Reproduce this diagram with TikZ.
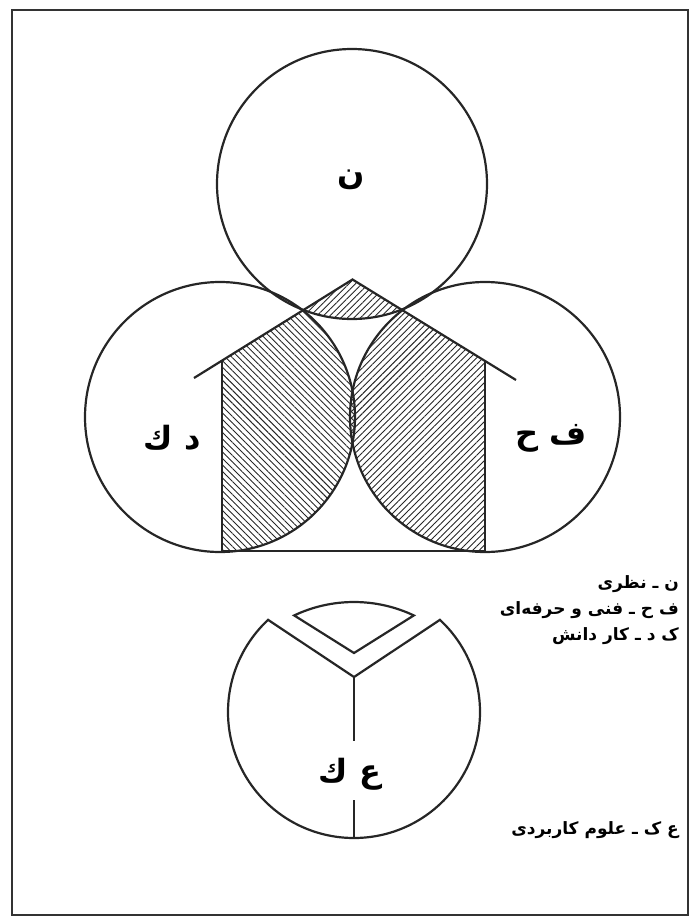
\documentclass[tikz,border=0pt]{standalone}
\usepackage{fontspec}
\usepackage{tikz}
\usetikzlibrary{patterns.meta, calc}
\newfontfamily\arabicfont[Script=Arabic]{DejaVu Sans}
\TeXXeTstate=1
\tikzstyle{outline} = [line width=2.2pt, black!85]
\tikzstyle{abbr} = [font=\arabicfont\bfseries\fontsize{32}{36}\selectfont, inner sep=0pt]
\tikzstyle{keytext} = [font=\arabicfont\bfseries\fontsize{17}{20}\selectfont, inner sep=0pt, anchor=east]
\tikzstyle{hatchL} = [pattern={Lines[angle=-45, distance=4.6pt, line width=0.9pt]}, pattern color=black!85]
\tikzstyle{hatchR} = [pattern={Lines[angle=45, distance=4.6pt, line width=0.9pt]}, pattern color=black!85]

\begin{document}
\begin{tikzpicture}[x=1pt, y=-1pt]
        \useasboundingbox (0,0) rectangle (698,919);
        \draw[line width=1.4pt, black!80] (12,10) rectangle (688,915);
        % three circles and the house
        \coordinate (top) at (352,184);
        \coordinate (left) at (220,417);
        \coordinate (right) at (485,417);
        \coordinate (apex) at (352.5,279.5);
        \coordinate (eaveL) at (194,378);
        \coordinate (eaveR) at (516,380);
        \coordinate (wallL) at (222,360.6);
        \coordinate (wallR) at (485,360.9);
        \coordinate (footL) at (222,551);
        \coordinate (footR) at (485,551);
        \begin{scope}
            \clip (left) circle[radius=135];
            \fill[hatchL] (footL) -- (wallL) -- (apex) -- (wallR) -- (footR) -- cycle;
        \end{scope}
        \begin{scope}
            \clip (right) circle[radius=135];
            \fill[hatchR] (footL) -- (wallL) -- (apex) -- (wallR) -- (footR) -- cycle;
        \end{scope}
        \begin{scope}
            \clip (top) circle[radius=135];
            \fill[hatchR] (footL) -- (wallL) -- (apex) -- (wallR) -- (footR) -- cycle;
        \end{scope}
        \draw[outline] (top) circle[radius=135];
        \draw[outline] (left) circle[radius=135];
        \draw[outline] (right) circle[radius=135];
        \draw[outline] (eaveL) -- (apex) -- (eaveR);
        \draw[outline] (wallL) -- (footL) -- (footR) -- (wallR);
        \node[abbr] (nazari) at (351,180) {\beginR ن\endR};
        \node[abbr] (kardanesh) at (172,438) {\beginR د ك\endR};
        \node[abbr] (fanni) at (551,438) {\beginR ف ح\endR};
        % the pie with its piece lifted out
        \coordinate (pie) at (354,712);
        \coordinate (notch) at (354,677);
        \coordinate (tip) at (354,653);
        \coordinate (stemA) at (354,741);
        \coordinate (stemB) at (354,800);
        \draw[outline] (notch) -- ($(pie)+(-47:126)$) arc[start angle=-47, end angle=227, radius=126] -- cycle;
        \draw[outline] (tip) -- ($(354,742)+(-64.7:140)$) arc[start angle=-64.7, end angle=-115.3, radius=140] -- cycle;
        \draw[outline] (notch) -- (stemA);
        \draw[outline] (stemB) -- ($(pie)+(90:126)$);
        \node[abbr] (olum) at (350,774) {\beginR ع ك\endR};
        \node[keytext] (keyN) at (679,584) {\beginR ن ـ نظری\endR};
        \node[keytext] (keyF) at (679,610) {\beginR ف ح ـ فنی و حرفه‌ای\endR};
        \node[keytext] (keyK) at (679,636) {\beginR ک د ـ کار دانش\endR};
        \node[keytext] (keyA) at (679,830) {\beginR ع ک ـ علوم کاربردی\endR};
    \end{tikzpicture}
\end{document}
